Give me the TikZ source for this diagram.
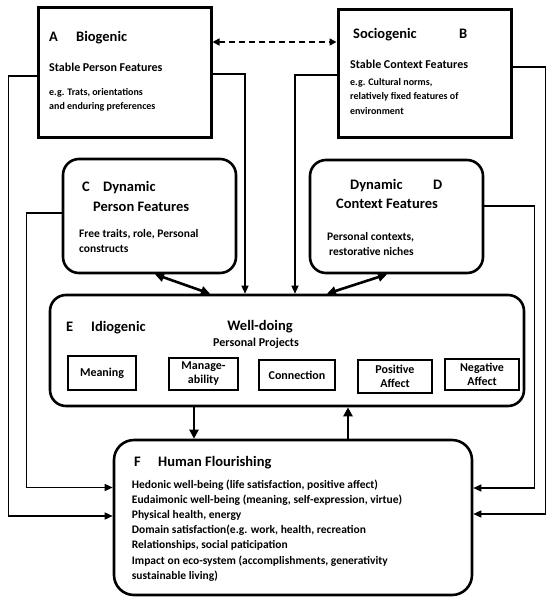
\documentclass[tikz,border=0pt]{standalone}
\usepackage{fontspec}
\setmainfont{Carlito}
\usetikzlibrary{positioning}
\usetikzlibrary{arrows.meta}

\begin{document}
\begin{tikzpicture} [x=1pt, y=-1pt,
    stable/.style = {draw, line width=3pt},
    dyn/.style = {draw, line width=2.6pt, rounded corners=16pt},
    item/.style = {draw, line width=1.8pt, align=center, inner sep=0pt, font=\bfseries\fontsize{12}{14}\selectfont},
    head/.style = {anchor=base west, inner sep=0pt, font=\bfseries\fontsize{14.5}{17}\selectfont},
    sub/.style = {anchor=base west, inner sep=0pt, font=\bfseries\fontsize{12}{14}\selectfont},
    note/.style = {anchor=base west, inner sep=0pt, align=left, font=\bfseries\fontsize{10}{14.8}\selectfont},
    body/.style = {anchor=base west, inner sep=0pt, align=left, font=\bfseries\fontsize{11.5}{15.2}\selectfont},
    link/.style = {-{Triangle[length=8pt,width=7pt]}, line width=1.4pt},
    both/.style = {{Triangle[length=9pt,width=9pt]}-{Triangle[length=9pt,width=9pt]}, line width=2.6pt},
    dashlink/.style = {{Triangle[length=7pt,width=7pt]}-{Triangle[length=7pt,width=7pt]}, line width=1.6pt, dash pattern=on 6pt off 4pt}]

        \useasboundingbox (0,0) rectangle (547,598);

        %Kaesten
        \node[stable, minimum width=173pt, minimum height=130pt] (A) at (124.5,72) {};
        \node[stable, minimum width=173pt, minimum height=128pt] (B) at (424.5,73) {};
        \node[dyn, minimum width=173pt, minimum height=114pt] (C) at (149.5,216) {};
        \node[dyn, minimum width=173pt, minimum height=113pt] (D) at (396.5,216.5) {};
        \node[dyn, minimum width=474pt, minimum height=111pt] (E) at (287,350.5) {};
        \node[dyn, minimum width=358pt, minimum height=155pt, rounded corners=20pt] (F) at (293,517.5) {};

        %Projekte
        \node[item, minimum width=68pt, minimum height=34pt] (mean) at (102,373) {Meaning};
        \node[item, minimum width=69pt, minimum height=32pt] (manage) at (203.5,374) {Manage-\\ability};
        \node[item, minimum width=76pt, minimum height=30pt] (conn) at (297,375) {Connection};
        \node[item, minimum width=74pt, minimum height=33pt] (pos) at (395,376.5) {Positive\\Affect};
        \node[item, minimum width=74pt, minimum height=31pt] (neg) at (482,374.5) {Negative\\Affect};

        %Texte (mehrzeilig: Grundlinie der letzten Zeile)
        \node[head] (Abuch) at (49,41.5) {A};
        \node[head] (Aname) at (76,41.5) {Biogenic};
        \node[sub] (Asub) at (49,71.7) {Stable Person Features};
        \node[note] (Anote) at (49,109.8) {e.g. Trats, orientations\\and enduring preferences};

        \node[head] (Bname) at (353,38) {Sociogenic};
        \node[head] (Bbuch) at (459,38) {B};
        \node[sub] (Bsub) at (350,68.3) {Stable Context Features};
        \node[note] (Bnote) at (350,114.6) {e.g. Cultural norms,\\relatively fixed features of\\environment};

        \node[head] (Cbuch) at (82,191.7) {C};
        \node[head] (Cname) at (103,191.7) {Dynamic};
        \node[head] (Cname2) at (93,211) {Person Features};
        \node[body] (Cnote) at (79,252.5) {Free traits, role, Personal\\constructs};

        \node[head] (Dname) at (350,189) {Dynamic};
        \node[head] (Dbuch) at (433,189) {D};
        \node[head] (Dname2) at (336,208.3) {Context Features};
        \node[body] (Dnote) at (327,255.2) {Personal contexts,\\\hspace{2pt}restorative niches};

        \node[head] (Ebuch) at (66,331) {E};
        \node[head] (Ename) at (91,331) {Idiogenic};
        \node[head, anchor=base] (Ewell) at (260,330.7) {Well-doing};
        \node[sub, anchor=base] (Eproj) at (256,346.7) {Personal Projects};

        \node[head] (Fbuch) at (134,466.7) {F};
        \node[head] (Fname) at (158,466.7) {Human Flourishing};
        \node[body] (Fnote) at (131.7,579.2) {Hedonic well-being (life satisfaction, positive affect)\\
            Eudaimonic well-being (meaning, self-expression, virtue)\\
            Physical health, energy\\
            Domain satisfaction(e.g. work, health, recreation\\
            Relationships, social paticipation\\
            Impact on eco-system (accomplishments, generativity\\
            sustainable living)};

        %Kanten
        \draw[dashlink] ([yshift=30pt]A.east) -- ([yshift=30pt]A.east -| B.west);

        \draw[link] ([yshift=-4pt]A.west) -- ++(-28,0) |- ([yshift=1.5pt]F.west);
        \draw[link] ([yshift=3pt]C.west) -- ++(-35,0) |- ([yshift=30pt]F.west);
        \draw[link] ([yshift=-2pt]A.east) -| ([xshift=-42pt]E.north);
        \draw[link] ([yshift=-2pt]B.west) -| ([xshift=8pt]E.north);
        \draw[link] ([yshift=6pt]B.east) -- ++(33,0) |- ([yshift=3.5pt]F.east);
        \draw[link] ([yshift=10.5pt]D.east) -- ++(50,0) |- ([yshift=29.5pt]F.east);

        \draw[both] ([xshift=5.5pt]C.south) -- ([xshift=-77pt]E.north);
        \draw[both] ([xshift=-9.5pt]D.south) -- ([xshift=40pt]E.north);

        \draw[-{Triangle[length=9pt,width=9pt]}, line width=2.6pt] ([xshift=-93pt]E.south) -- ([xshift=-93pt]E.south |- F.north);
        \draw[-{Triangle[length=9pt,width=9pt]}, line width=2.6pt] ([xshift=55pt]F.north) -- ([xshift=55pt]F.north |- E.south);

    \end{tikzpicture}
\end{document}
